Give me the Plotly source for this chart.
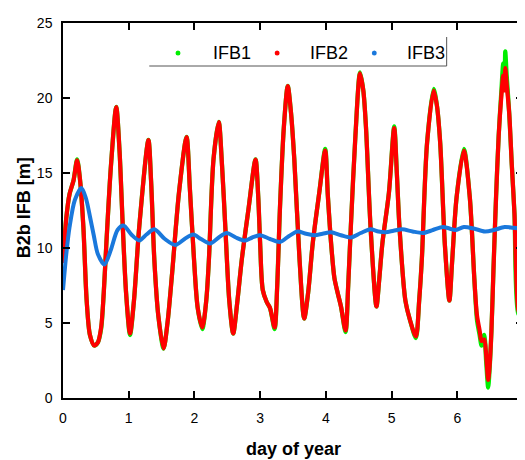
import plotly.graph_objects as go

# ---- data ----
days = [0.00, 0.05, 0.10, 0.16, 0.215, 0.26, 0.31, 0.36, 0.41, 0.475, 0.53, 0.58, 0.62, 0.66, 0.73, 0.81, 0.86, 0.91, 0.96,
        1.02, 1.08, 1.16, 1.30, 1.34, 1.39, 1.45, 1.53, 1.59, 1.66, 1.765, 1.88, 1.93, 1.99,
        2.05, 2.12, 2.18, 2.22, 2.29, 2.37, 2.42, 2.47, 2.53, 2.59, 2.65, 2.72, 2.82, 2.93, 2.97,
        3.00, 3.04, 3.10, 3.15, 3.22, 3.26, 3.30, 3.36, 3.42, 3.47, 3.52, 3.60, 3.67, 3.73, 3.80, 3.90, 3.99,
        4.03, 4.08, 4.13, 4.18, 4.23, 4.30, 4.34, 4.38, 4.45, 4.52, 4.57, 4.61, 4.68, 4.77, 4.81, 4.86, 4.96,
        5.04, 5.08, 5.12, 5.21, 5.28, 5.37, 5.42, 5.46, 5.54, 5.64, 5.69, 5.74, 5.81, 5.88, 5.92, 5.99,
        6.10, 6.19, 6.26, 6.30, 6.34, 6.37, 6.41, 6.44, 6.47, 6.49, 6.52, 6.55, 6.59, 6.63, 6.67, 6.70,
        6.72, 6.73, 6.75, 6.79, 6.83, 6.87, 6.93, 6.97]

ifb2 = [9.0, 12.0, 13.6, 14.5, 15.85, 14.5, 11.4, 6.5, 4.2, 3.5, 3.7, 4.7, 7.0, 10.3, 15.5, 19.4, 16.5, 11.4, 7.0,
        4.3, 6.5, 11.4, 17.2, 14.5, 9.2, 5.5, 3.3, 5.0, 8.3, 13.7, 17.4, 14.0, 9.5,
        6.0, 4.7, 6.5, 9.2, 15.9, 18.4, 15.5, 11.4, 6.5, 4.3, 6.3, 9.2, 12.5, 15.9, 13.5,
        10.3, 7.2, 6.4, 6.0, 4.7, 7.5, 12.5, 18.0, 20.8, 19.0, 15.9, 9.2, 5.3, 7.0, 10.3, 13.7, 16.5,
        13.5, 10.3, 8.0, 7.0, 6.1, 4.5, 7.5, 11.4, 17.5, 21.65, 20.5, 18.1, 11.4, 6.1, 7.8, 10.3, 13.7,
        18.0, 15.0, 11.4, 6.5, 5.2, 4.1, 6.5, 9.2, 17.0, 20.5, 19.5, 17.0, 10.3, 6.5, 9.0, 13.4,
        16.5, 13.4, 7.9, 5.5, 4.5, 3.8, 3.9, 2.8, 1.2, 2.0, 4.5, 8.5, 13.4, 17.5, 20.1, 21.5,
        20.5, 22.0, 21.0, 19.0, 15.5, 12.3, 5.85, 5.5]

ifb1 = [9.0, 12.0, 13.6, 14.5, 15.9, 14.5, 11.4, 6.5, 4.2, 3.5, 3.7, 4.6, 7.0, 10.3, 15.5, 19.4, 16.5, 11.4, 7.0,
        4.2, 6.5, 11.4, 17.2, 14.5, 9.2, 5.5, 3.3, 5.0, 8.3, 13.7, 17.4, 14.0, 9.5,
        6.0, 4.6, 6.5, 9.2, 15.9, 18.4, 15.5, 11.4, 6.5, 4.3, 6.3, 9.2, 12.5, 15.9, 13.5,
        10.3, 7.2, 6.4, 6.0, 4.6, 7.5, 12.5, 18.0, 20.8, 19.0, 15.9, 9.2, 5.3, 7.0, 10.3, 13.7, 16.6,
        13.5, 10.3, 8.0, 7.0, 6.1, 4.4, 7.5, 11.4, 17.5, 21.7, 20.5, 18.1, 11.4, 6.1, 7.8, 10.3, 13.7,
        18.1, 15.0, 11.4, 6.5, 5.2, 4.0, 6.5, 9.2, 17.0, 20.6, 19.5, 17.0, 10.3, 6.5, 9.0, 13.4,
        16.6, 13.4, 7.9, 5.2, 4.2, 3.5, 4.2, 2.4, 0.7, 1.8, 4.5, 8.5, 13.4, 17.5, 20.4, 22.3,
        21.0, 23.1, 21.6, 19.0, 15.5, 12.3, 5.6, 5.5]

days3 = [0.00, 0.05, 0.10, 0.18, 0.28, 0.35, 0.41, 0.47, 0.53, 0.63, 0.73, 0.83, 0.92, 1.04, 1.16, 1.27, 1.39, 1.55,
         1.71, 1.85, 1.98, 2.10, 2.24, 2.37, 2.49, 2.63, 2.77, 2.88, 3.00, 3.15, 3.30, 3.44, 3.57, 3.70, 3.83,
         3.95, 4.08, 4.23, 4.38, 4.53, 4.68, 4.80, 4.91, 5.03, 5.16, 5.32, 5.48, 5.63, 5.78, 5.88, 5.97, 6.10,
         6.25, 6.42, 6.56, 6.72, 6.85, 6.97]
ifb3 = [7.2, 9.6, 11.4, 13.2, 14.0, 13.3, 12.1, 10.8, 9.6, 8.9, 9.9, 11.2, 11.5, 10.9, 10.5, 10.9, 11.25, 10.6,
        10.2, 10.6, 10.9, 10.6, 10.3, 10.7, 11.0, 10.7, 10.5, 10.7, 10.85, 10.6, 10.4, 10.8, 11.1, 10.95, 10.85,
        10.95, 11.05, 10.85, 10.7, 11.0, 11.25, 11.1, 11.05, 11.15, 11.25, 11.1, 11.0, 11.2, 11.4, 11.3, 11.2, 11.4,
        11.3, 11.1, 11.2, 11.4, 11.35, 11.3]

series_names = ["IFB1", "IFB2", "IFB3"]
x_ticks = [0, 1, 2, 3, 4, 5, 6, 7]
y_ticks = [0, 5, 10, 15, 20, 25]

GREEN = "#00ee00"
RED = "#ff0000"
BLUE = "#1a78dc"
FONT = "Arial, 'Liberation Sans', sans-serif"

fig = go.Figure()
fig.add_trace(go.Scatter(x=days, y=ifb1, mode="lines", line=dict(color=GREEN, width=4.3, shape="spline", smoothing=0.8),
                         showlegend=False, hoverinfo="skip"))
fig.add_trace(go.Scatter(x=days, y=ifb2, mode="lines", line=dict(color=RED, width=4.2, shape="spline", smoothing=0.8),
                         showlegend=False, hoverinfo="skip"))
fig.add_trace(go.Scatter(x=days3, y=ifb3, mode="lines", line=dict(color=BLUE, width=4, shape="spline", smoothing=0.8),
                         showlegend=False, hoverinfo="skip"))

# page offset (body margin) is 8 px; figure coordinates = page coordinates - 8
OFF = 8
L, T, B, R = 55, 15, 62, 3
W, H = 522, 452
pw, ph = W - L - R, H - T - B


def px(xp):
    return (xp - OFF - L) / pw


def py(yp):
    return (H - B - (yp - OFF)) / ph


fig.update_layout(
    width=W, height=H,
    margin=dict(l=L, r=R, t=T, b=B),
    paper_bgcolor="white", plot_bgcolor="white",
    font=dict(family=FONT, size=14, color="black"),
    showlegend=False,
    xaxis=dict(range=[0, 7], tickvals=x_ticks, ticks="inside", ticklen=7, tickwidth=1.5, tickcolor="black",
               showline=True, linecolor="black", linewidth=1.5, mirror="ticks", showgrid=False, zeroline=False,
               ticklabelstandoff=6, tickfont=dict(size=14)),
    yaxis=dict(range=[0, 25], tickvals=y_ticks, ticks="inside", ticklen=7, tickwidth=1.5, tickcolor="black",
               showline=True, linecolor="black", linewidth=1.5, mirror="ticks", showgrid=False, zeroline=False,
               ticklabelstandoff=6, tickfont=dict(size=14)),
)

# axis titles
fig.add_annotation(text="<b>day of year</b>", xref="paper", yref="paper", x=px(295), y=py(449),
                   showarrow=False, font=dict(size=18, family=FONT), xanchor="center", yanchor="middle")
fig.add_annotation(text="<b>B2b IFB [m]</b>", xref="paper", yref="paper", x=px(24), y=py(208),
                   showarrow=False, textangle=-90, font=dict(size=18, family=FONT), xanchor="center",
                   yanchor="middle")

# legend (drawn manually)
colors = [GREEN, RED, BLUE]
dot_x = [179, 279, 377]
txt_x = [212, 310, 408]
for name, c, dx, tx in zip(series_names, colors, dot_x, txt_x):
    fig.add_shape(type="circle", xref="paper", yref="paper",
                  x0=px(dx - 2.5), x1=px(dx + 2.5), y0=py(53 + 2.5), y1=py(53 - 2.5),
                  fillcolor=c, line=dict(color=c, width=0))
    fig.add_annotation(text=name, xref="paper", yref="paper", x=px(tx), y=py(53), showarrow=False,
                       xanchor="left", yanchor="middle", font=dict(size=18, family=FONT))
fig.add_shape(type="line", xref="paper", yref="paper", x0=px(150), x1=px(450), y0=py(66), y1=py(66),
              line=dict(color="#555555", width=1))
fig.add_shape(type="line", xref="paper", yref="paper", x0=px(450), x1=px(450), y0=py(66), y1=py(37),
              line=dict(color="#555555", width=1))

fig.write_html("out.html")
